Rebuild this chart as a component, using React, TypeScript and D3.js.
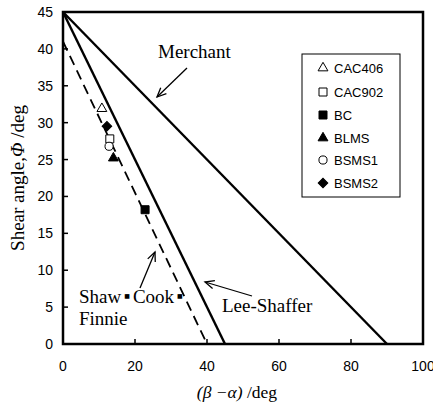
import React from "react";
import * as d3 from "d3";

const xTicks = [0, 20, 40, 60, 80, 100];
const yTicks = [0, 5, 10, 15, 20, 25, 30, 35, 40, 45];

// theory lines: [β-α, φ] endpoints
const merchantX = [0, 90];
const merchantY = [45, 0];
const leeShafferX = [0, 45];
const leeShafferY = [45, 0];
const scfX = [0, 40];
const scfY = [41, 0];

const seriesNames = ["CAC406", "CAC902", "BC", "BLMS", "BSMS1", "BSMS2"];
const seriesX = [10.8, 13.0, 22.8, 14.0, 12.8, 12.2];
const seriesY = [31.9, 27.8, 18.2, 25.2, 26.8, 29.5];
const seriesShape = ["triangle", "square", "square", "triangle", "circle", "diamond"];
const seriesFilled = [false, false, true, true, false, true];

const W = 433;
const H = 405;
const left = 63, right = 423, top = 12, bottom = 344;

function symbolPath(shape: string) {
  if (shape === "triangle") return d3.symbol(d3.symbolTriangle, 42)()!;
  if (shape === "square") return d3.symbol(d3.symbolSquare, 64)()!;
  if (shape === "circle") return d3.symbol(d3.symbolCircle, 52)()!;
  return d3.symbol(d3.symbolSquare, 46)()!;
}

function Marker({ shape, filled, x, y }: { shape: string; filled: boolean; x: number; y: number }) {
  const rot = shape === "diamond" ? 45 : 0;
  return (
    <path
      d={symbolPath(shape)}
      transform={`translate(${x},${y}) rotate(${rot})`}
      fill={filled ? "#000" : "#fff"}
      stroke="#000"
      strokeWidth={1}
    />
  );
}

function Arrow({ x1, y1, x2, y2 }: { x1: number; y1: number; x2: number; y2: number }) {
  const ang = Math.atan2(y2 - y1, x2 - x1);
  const L = 10, a = 0.42;
  const p1 = [x2 - L * Math.cos(ang - a), y2 - L * Math.sin(ang - a)];
  const p2 = [x2 - L * Math.cos(ang + a), y2 - L * Math.sin(ang + a)];
  return (
    <g stroke="#000" strokeWidth={1.3} fill="none">
      <line x1={x1} y1={y1} x2={x2} y2={y2} />
      <polyline points={`${p1[0]},${p1[1]} ${x2},${y2} ${p2[0]},${p2[1]}`} />
    </g>
  );
}

export default function App() {
  const x = d3.scaleLinear().domain([0, 100]).range([left, right]);
  const y = d3.scaleLinear().domain([0, 45]).range([bottom, top]);
  const line = d3.line<[number, number]>().x((d) => x(d[0])).y((d) => y(d[1]));
  const mk = (xs: number[], ys: number[]) => xs.map((v, i) => [v, ys[i]] as [number, number]);

  const serif = "'Liberation Serif', 'Times New Roman', serif";
  const sans = "'Liberation Sans', Arial, sans-serif";
  const dot = "'DejaVu Sans', sans-serif";

  const legendRows = [68, 92, 115, 138, 160, 183];

  return (
    <svg width={W} height={H} style={{ position: "absolute", left: 0, top: 0, background: "#fff" }}>
      <rect x={0} y={0} width={W} height={H} fill="#fff" />
      {/* ticks */}
      <g stroke="#000" strokeWidth={1.5}>
        {xTicks.slice(1, -1).map((t) => (
          <line key={"xt" + t} x1={x(t)} x2={x(t)} y1={bottom} y2={bottom - 5} />
        ))}
        {yTicks.slice(1, -1).map((t) => (
          <line key={"yt" + t} x1={left} x2={left + 5} y1={y(t)} y2={y(t)} />
        ))}
      </g>
      {/* theory lines */}
      <g fill="none" stroke="#000" strokeWidth={2.4}>
        <path d={line(mk(merchantX, merchantY))!} />
        <path d={line(mk(leeShafferX, leeShafferY))!} />
        <path d={line(mk(scfX, scfY))!} strokeWidth={1.8} strokeDasharray="10,6" />
      </g>
      {/* frame */}
      <rect x={left} y={top} width={right - left} height={bottom - top} fill="none" stroke="#000" strokeWidth={2.5} />
      {/* data markers */}
      {seriesNames.map((n, i) => (
        <Marker key={n} shape={seriesShape[i]} filled={seriesFilled[i]} x={x(seriesX[i])} y={y(seriesY[i])} />
      ))}
      {/* tick labels */}
      <g fontFamily={sans} fontSize={14} fill="#000">
        {xTicks.map((t) => (
          <text key={"xl" + t} x={x(t)} y={371} textAnchor="middle">{t}</text>
        ))}
        {yTicks.map((t) => (
          <text key={"yl" + t} x={53} y={y(t) + 5} textAnchor="end">{t}</text>
        ))}
      </g>
      {/* axis titles */}
      <text x={237} y={398} textAnchor="middle" fontFamily={serif} fontSize={17.5}>
        <tspan fontStyle="italic">(β −α)</tspan> /deg
      </text>
      <text
        transform={`translate(24,${(top + bottom) / 2}) rotate(-90)`}
        textAnchor="middle"
        fontFamily={serif}
        fontSize={19}
      >
        Shear angle,<tspan fontStyle="italic">Φ</tspan> /deg
      </text>
      {/* legend */}
      <rect x={302} y={54} width={98} height={143} fill="#fff" stroke="#000" strokeWidth={1} />
      {seriesNames.map((n, i) => (
        <g key={"lg" + n}>
          <Marker shape={seriesShape[i]} filled={seriesFilled[i]} x={323} y={legendRows[i]} />
          <text x={334} y={legendRows[i] + 5} fontFamily={sans} fontSize={13}>{n}</text>
        </g>
      ))}
      {/* annotations */}
      <g fontFamily={serif} fontSize={19} fill="#000">
        <text x={158} y={58}>Merchant</text>
        <text x={222} y={312}>Lee-Shaffer</text>
        <text x={79} y={303}>
          Shaw
          <tspan fontFamily={dot} fontSize={6} dx={3} dy={-5}>■</tspan>
          <tspan dx={3} dy={5}>Cook</tspan>
          <tspan fontFamily={dot} fontSize={6} dx={3} dy={-5}>■</tspan>
        </text>
        <text x={79} y={325}>Finnie</text>
      </g>
      <Arrow x1={187} y1={68} x2={157} y2={97} />
      <Arrow x1={252} y1={296} x2={205} y2={282} />
      <Arrow x1={140} y1={288} x2={155} y2={252} />
    </svg>
  );
}
